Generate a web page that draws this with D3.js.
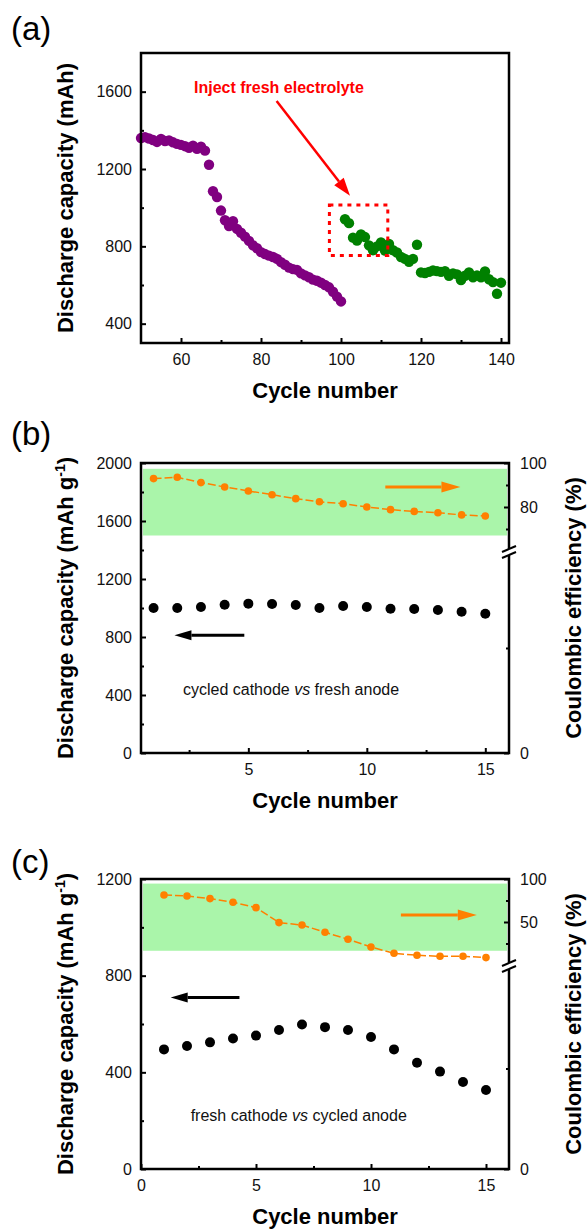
<!DOCTYPE html>
<html>
<head>
<meta charset="utf-8">
<script src="https://cdn.jsdelivr.net/npm/d3@7"></script>
<style>
body { margin: 0; background: #fff; }
svg { display: block; }
text { font-family: "Liberation Sans", Arial, sans-serif; }
</style>
</head>
<body>
<div id="chart"></div>
<script>

// (a) capacity vs cycle, before / after injecting fresh electrolyte
var cyclesBefore = [50,51,52,53,54,55,56,57,58,59,60,61,62,63,64,65,66,67,68,69,70,71,72,73,74,75,
	76,77,78,79,80,81,82,83,84,85,86,87,88,89,90,91,92,93,94,95,96,97,98,99,100];
var capBefore = [1360,1365,1358,1350,1340,1355,1345,1348,1338,1330,1325,1318,1310,1320,1305,1315,1295,
	1222,1085,1055,985,935,905,930,890,870,850,828,805,790,770,760,752,745,735,718,705,690,682,678,
	660,650,640,628,622,612,600,588,565,540,515];
var cyclesAfter = [101,102,103,104,105,106,107,108,109,110,111,112,113,114,115,116,117,118,119,120,
	121,122,123,124,125,126,127,128,129,130,131,132,133,134,135,136,137,138,139,140];
var capAfter = [940,920,845,830,862,848,805,780,800,820,778,812,780,768,745,735,720,735,808,665,
	662,668,675,672,668,672,648,660,655,625,648,665,640,650,640,670,630,615,555,612];

// (b) cycled cathode vs fresh anode
var cyclesB = [1,2,3,4,5,6,7,8,9,10,11,12,13,14,15];
var capB = [1000,1000,1007,1023,1030,1028,1021,1000,1014,1007,995,993,986,974,960];
var ceB = [92.9,93.5,91.1,89.1,87.3,85.6,83.8,82.4,81.5,80.0,78.8,78.0,77.4,76.4,75.9];

// (c) fresh cathode vs cycled anode
var cyclesC = [1,2,3,4,5,6,7,8,9,10,11,12,13,14,15];
var capC = [495,509,524,540,552,575,598,587,575,546,495,440,403,360,327];
var ceC = [81.4,80.2,77.2,72.9,66.7,49.3,46.5,38.0,29.9,20.9,13.6,11.3,10.1,10.1,8.6];

// ticks
var ticksAx = [60,80,100,120,140], minorAx = [70,90,110,130];
var ticksAy = [400,800,1200,1600], minorAy = [600,1000,1400];
var ticksBx = [5,10,15], minorBx = [2.5,7.5,12.5];
var ticksBy = [0,400,800,1200,1600,2000], minorBy = [200,600,1000,1400,1800];
var ticksBce = [80,100], minorBce = [70,90];
var ticksCx = [0,5,10,15], minorCx = [2.5,7.5,12.5];
var ticksCy = [0,400,800,1200], minorCy = [200,600,1000];
var ticksCce = [50,100], minorCce = [25,75];

var width = 368, height = 290, left = 141;

var svg = d3.select('#chart').append('svg')
	.attr('width', 587)
	.attr('height', 1229);

function addAxis(g, gen, scale, major, minor, pad, tx, ty, labelled) {
	var a = g.append('g')
		.attr('transform', 'translate(' + tx + ',' + ty + ')')
		.call(gen(scale).tickValues(major).tickSizeInner(-5).tickSizeOuter(0).tickPadding(pad)
			.tickFormat(labelled === false ? '' : d3.format('d')));
	a.select('.domain').remove();
	a.selectAll('line').attr('stroke-width', 2);
	a.selectAll('text').attr('font-size', 16).attr('fill', '#111');
	var m = g.append('g')
		.attr('transform', 'translate(' + tx + ',' + ty + ')')
		.call(gen(scale).tickValues(minor).tickSizeInner(-3).tickSizeOuter(0).tickFormat(''));
	m.select('.domain').remove();
	m.selectAll('line').attr('stroke-width', 2);
	return a;
}

function arrow(g, x1, y1, x2, y2, color, lw, hl, hw) {
	var ang = Math.atan2(y2 - y1, x2 - x1),
		bx = x2 - hl * Math.cos(ang),
		by = y2 - hl * Math.sin(ang),
		px = -Math.sin(ang) * hw / 2,
		py = Math.cos(ang) * hw / 2;
	g.append('line')
		.attr('x1', x1).attr('y1', y1).attr('x2', bx).attr('y2', by)
		.attr('stroke', color).attr('stroke-width', lw);
	g.append('path')
		.attr('d', 'M' + x2 + ',' + y2 + 'L' + (bx + px) + ',' + (by + py) + 'L' + (bx - px) + ',' + (by - py) + 'Z')
		.attr('fill', color);
}

function frame(g) {
	g.append('rect')
		.attr('width', width).attr('height', height)
		.attr('fill', 'none').attr('stroke', '#000').attr('stroke-width', 2.5);
}

function panelLabel(txt, y) {
	svg.append('text').attr('x', 11).attr('y', y).attr('font-size', 33).text(txt);
}

function xTitle(y) {
	svg.append('text')
		.attr('x', left + width / 2).attr('y', y)
		.attr('text-anchor', 'middle').attr('font-size', 22).attr('font-weight', 'bold')
		.text('Cycle number');
}

function yTitle(cy, sup) {
	var t = svg.append('text')
		.attr('transform', 'translate(73,' + cy + ') rotate(-90)')
		.attr('text-anchor', 'middle').attr('font-size', 22).attr('font-weight', 'bold');
	if (sup) {
		t.append('tspan').text('Discharge capacity (mAh g');
		t.append('tspan').attr('dy', -8).attr('font-size', 14).text('-1');
		t.append('tspan').attr('dy', 8).text(')');
	} else {
		t.text('Discharge capacity (mAh)');
	}
}

function ceTitle(cy) {
	svg.append('text')
		.attr('transform', 'translate(581,' + cy + ') rotate(-90)')
		.attr('text-anchor', 'middle').attr('font-size', 22).attr('font-weight', 'bold')
		.text('Coulombic efficiency (%)');
}

function breakMark(g, y) {
	g.append('rect').attr('x', width - 3).attr('y', y - 3).attr('width', 6).attr('height', 6).attr('fill', '#fff');
	[-3, 3].forEach(function(o){
		g.append('line')
			.attr('x1', width - 7).attr('y1', y + o + 3)
			.attr('x2', width + 7).attr('y2', y + o - 3)
			.attr('stroke', '#000').attr('stroke-width', 2);
	});
}

// ---------- (a) ----------
(function(){
	var top = 53;
	var x = d3.scaleLinear().domain([50, 142]).range([0, width]);
	var y = d3.scaleLinear().domain([300, 1800]).range([height, 0]);
	var g = svg.append('g').attr('transform', 'translate(' + left + ',' + top + ')');

	addAxis(g, d3.axisBottom, x, ticksAx, minorAx, 11, 0, height);
	addAxis(g, d3.axisLeft, y, ticksAy, minorAy, 9, 0, 0);

	g.selectAll('circle.before')
		.data(cyclesBefore)
		.enter()
		.append('circle')
		.attr('cx', function(d){ return x(d); })
		.attr('cy', function(d, i){ return y(capBefore[i]); })
		.attr('r', 5.2)
		.attr('fill', '#800080');

	g.selectAll('circle.after')
		.data(cyclesAfter)
		.enter()
		.append('circle')
		.attr('cx', function(d){ return x(d); })
		.attr('cy', function(d, i){ return y(capAfter[i]); })
		.attr('r', 5.2)
		.attr('fill', '#008000');

	g.append('rect')
		.attr('x', x(97.1)).attr('y', y(1014))
		.attr('width', x(111.7) - x(97.1)).attr('height', y(752) - y(1014))
		.attr('fill', 'none').attr('stroke', '#ff0000').attr('stroke-width', 3)
		.attr('stroke-dasharray', '4,5');

	arrow(g, x(83.9), y(1552), x(102.25), y(1062), '#ff0000', 2.5, 18, 12);

	g.append('text')
		.attr('x', x(63.25)).attr('y', y(1593))
		.attr('font-size', 16).attr('font-weight', 'bold').attr('fill', '#ff0000')
		.text('Inject fresh electrolyte');

	frame(g);
	panelLabel('(a)', 40);
	xTitle(398);
	yTitle(top + height / 2, false);
})();

// ---------- (b) and (c) ----------
function drawPair(cfg) {
	var top = cfg.top;
	var x = d3.scaleLinear().domain(cfg.xDomain).range([0, width]);
	var y = d3.scaleLinear().domain(cfg.yDomain).range([height, 0]);
	var ceHi = d3.scaleLinear().domain(cfg.ceDomain).range([cfg.breakY - 1, 0]);
	var ceLo = d3.scaleLinear().domain([0, 50]).range([height, cfg.loTop]);
	var g = svg.append('g').attr('transform', 'translate(' + left + ',' + top + ')');

	g.append('rect')
		.attr('x', 2).attr('y', y(cfg.band[1]))
		.attr('width', width - 4).attr('height', y(cfg.band[0]) - y(cfg.band[1]))
		.attr('fill', '#aaf5aa');

	addAxis(g, d3.axisBottom, x, cfg.ticksX, cfg.minorX, 11, 0, height);
	addAxis(g, d3.axisLeft, y, cfg.ticksY, cfg.minorY, 9, 0, 0);
	addAxis(g, d3.axisRight, ceHi, cfg.ticksCe, cfg.minorCe, 11, width, 0);
	addAxis(g, d3.axisRight, ceLo, [0], [25], 11, width, 0);

	g.append('path')
		.datum(cfg.cycles)
		.attr('d', d3.line()
			.x(function(d){ return x(d); })
			.y(function(d, i){ return ceHi(cfg.ce[i]); }))
		.attr('fill', 'none').attr('stroke', '#ff8000').attr('stroke-width', 1.5)
		.attr('stroke-dasharray', '8,3');

	g.selectAll('circle.ce')
		.data(cfg.cycles)
		.enter()
		.append('circle')
		.attr('cx', function(d){ return x(d); })
		.attr('cy', function(d, i){ return ceHi(cfg.ce[i]); })
		.attr('r', 3.8)
		.attr('fill', '#ff8000');

	g.selectAll('circle.cap')
		.data(cfg.cycles)
		.enter()
		.append('circle')
		.attr('cx', function(d){ return x(d); })
		.attr('cy', function(d, i){ return y(cfg.cap[i]); })
		.attr('r', 5)
		.attr('fill', '#000');

	var oa = cfg.orangeArrow, ba = cfg.blackArrow;
	arrow(g, x(oa[0]), ceHi(oa[2]), x(oa[1]), ceHi(oa[2]), '#ff8000', 3, 19, 11);
	arrow(g, x(ba[0]), y(ba[2]), x(ba[1]), y(ba[2]), '#000', 3, 17, 10);

	var t = g.append('text')
		.attr('x', x(cfg.note[0])).attr('y', y(cfg.note[1]))
		.attr('font-size', 16).attr('fill', '#111');
	t.append('tspan').text(cfg.noteText[0]);
	t.append('tspan').attr('font-style', 'italic').text('vs');
	t.append('tspan').text(cfg.noteText[1]);

	frame(g);
	breakMark(g, cfg.breakY);
	panelLabel(cfg.label, cfg.labelY);
	xTitle(top + height + 55);
	yTitle(top + height / 2, true);
	ceTitle(top + height / 2);
}

drawPair({
	label: '(b)', labelY: 445, top: 463,
	xDomain: [0.47, 16], yDomain: [0, 2000], ceDomain: [60, 100],
	breakY: 89, loTop: 80, band: [1500, 1960],
	ticksX: ticksBx, minorX: minorBx, ticksY: ticksBy, minorY: minorBy,
	ticksCe: ticksBce, minorCe: minorBce,
	cycles: cyclesB, cap: capB, ce: ceB,
	orangeArrow: [10.78, 13.95, 89.1], blackArrow: [4.83, 1.88, 812],
	note: [2.24, 402], noteText: ['cycled cathode ', ' fresh anode']
});

drawPair({
	label: '(c)', labelY: 873, top: 879,
	xDomain: [0, 16], yDomain: [0, 1200], ceDomain: [0, 100],
	breakY: 87, loTop: 89, band: [903, 1181],
	ticksX: ticksCx, minorX: minorCx, ticksY: ticksCy, minorY: minorCy,
	ticksCe: ticksCce, minorCe: minorCce,
	cycles: cyclesC, cap: capC, ce: ceC,
	orangeArrow: [11.3, 14.6, 58], blackArrow: [4.28, 1.29, 710],
	note: [2.16, 199], noteText: ['fresh cathode ', ' cycled anode']
});

</script>
</body>
</html>
